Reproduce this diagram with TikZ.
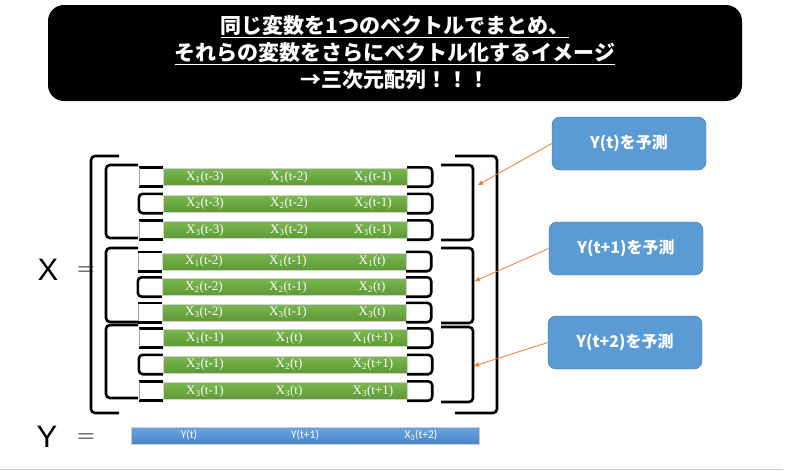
\documentclass[tikz,border=0pt]{standalone}
\usepackage{fontspec}
\setsansfont{Liberation Sans}
\newfontfamily\jpfont{Noto Sans CJK JP}
\newfontfamily\barfont{Liberation Serif}
\newfontfamily\ybarfont{Carlito}
\usetikzlibrary{arrows.meta,positioning,calc}
\usepackage{xcolor}
\definecolor{barTop}{RGB}{124,184,80}
\definecolor{barBot}{RGB}{92,152,52}
\definecolor{ybarTop}{RGB}{108,165,222}
\definecolor{ybarBot}{RGB}{72,134,200}
\definecolor{calloutFill}{RGB}{91,155,213}
\definecolor{calloutLine}{RGB}{65,113,156}
\definecolor{arrowOrange}{RGB}{237,125,49}
\newcommand{\xv}[2]{X\textsubscript{#1}(#2)}
\newcommand{\tri}[3]{\makebox[244pt][l]{\makebox[84pt]{#1}\makebox[84pt]{#2}\makebox[84pt]{#3}}}
\newcommand{\undl}[1]{\setbox0\hbox{#1}\rlap{\raisebox{-4.5pt}{\rule{\wd0}{1.3pt}}}\box0}

\begin{document}
\begin{tikzpicture}[x=1pt,y=-1pt,
    bar/.style={minimum width=244pt,minimum height=17pt,inner sep=0pt,
      top color=barTop,bottom color=barBot,draw=gray!35,text=white,
      font=\barfont\fontsize{13}{15}\selectfont},
    ybar/.style={minimum width=348pt,minimum height=17pt,inner sep=0pt,
      top color=ybarTop,bottom color=ybarBot,draw=gray!40,text=white,
      font=\ybarfont\fontsize{11.5}{13}\selectfont},
    brk/.style={line width=2.6pt,rounded corners=4pt},
    thinv/.style={gray!70,line width=0.8pt},
    callout/.style={draw=calloutLine,fill=calloutFill,rounded corners=8pt,
      minimum width=154pt,minimum height=53pt,text=white,
      font=\jpfont\bfseries\fontsize{16}{18}\selectfont},
    arr/.style={arrowOrange,line width=0.8pt,-{Triangle[length=5pt,width=4.5pt]}}]
  \path[fill=white,use as bounding box] (0,0) rectangle (785,471);

  % title
  \node[fill=black,rounded corners=16pt,minimum width=694pt,minimum height=96pt,
    text=white,align=center,font=\jpfont\bfseries\fontsize{21}{27}\selectfont]
    (title) at (395,53) {\undl{同じ変数を1つのベクトルでまとめ、}\\
    \undl{それらの変数をさらにベクトル化するイメージ}\\
    →三次元配列！！！};

  % X rows
  \node[bar] (r1) at (285,177) {\tri{\xv{1}{t-3}}{\xv{1}{t-2}}{\xv{1}{t-1}}};
  \node[bar] (r2) at (285,203.5) {\tri{\xv{2}{t-3}}{\xv{2}{t-2}}{\xv{2}{t-1}}};
  \node[bar] (r3) at (285,230) {\tri{\xv{3}{t-3}}{\xv{3}{t-2}}{\xv{3}{t-1}}};
  \node[bar] (r4) at (284,261.5) {\tri{\xv{1}{t-2}}{\xv{1}{t-1}}{\xv{1}{t}}};
  \node[bar] (r5) at (284,287) {\tri{\xv{2}{t-2}}{\xv{2}{t-1}}{\xv{2}{t}}};
  \node[bar] (r6) at (284,312.5) {\tri{\xv{3}{t-2}}{\xv{3}{t-1}}{\xv{3}{t}}};
  \node[bar] (r7) at (285,338) {\tri{\xv{1}{t-1}}{\xv{1}{t}}{\xv{1}{t+1}}};
  \node[bar] (r8) at (285,364.5) {\tri{\xv{2}{t-1}}{\xv{2}{t}}{\xv{2}{t+1}}};
  \node[bar] (r9) at (285,391) {\tri{\xv{3}{t-1}}{\xv{3}{t}}{\xv{3}{t+1}}};

  % row brackets
  \foreach \r in {r2,r5,r8}
    \draw[brk] ([yshift=1pt]\r.north west) -- ++(-24,0) |- ([yshift=-1pt]\r.south west);
  \foreach \r in {r1,r3,r4,r6,r7,r9} {
    \draw[brk] ([yshift=1pt]\r.north west) -- ++(-24,0);
    \draw[brk] ([yshift=-1pt]\r.south west) -- ++(-24,0);
    \draw[thinv] ([xshift=-23pt]\r.north west) -- ([xshift=-23pt]\r.south west);
  }
  \foreach \r in {r1,r2,r3,r4,r5,r6,r7,r8,r9}
    \draw[brk] ([yshift=1pt]\r.north east) -- ++(25,0) |- ([yshift=-1pt]\r.south east);

  % group brackets
  \foreach \t/\b in {165/238,248/322,325/398}
    \draw[brk] (138,\t) -- (106,\t) -- (106,\b) -- (138,\b);
  \foreach \t/\b in {165/240,248/323,327/402}
    \draw[brk] (441,\t) -- (473,\t) -- (473,\b) -- (441,\b);
  \draw[brk] (119,156) -- (91,156) -- (91,413) -- (119,413);
  \draw[brk] (455,156) -- (497,156) -- (497,413) -- (455,413);

  % X = , Y =
  \node[font=\sffamily\fontsize{31}{31}\selectfont] (xlab) at (48,270) {X};
  \node[font=\fontsize{24}{24}\selectfont] (xeq) at (86,271) {=};
  \node[font=\sffamily\fontsize{31}{31}\selectfont] (ylab) at (47,437) {Y};
  \node[font=\fontsize{24}{24}\selectfont] (yeq) at (86,438) {=};
  \node[ybar] (ybar) at (305,435.5) {\makebox[116pt]{Y(t)}\makebox[116pt]{Y(t+1)}\makebox[116pt]{X\textsubscript{3}(t+2)}};

  % callouts
  \node[callout] (c1) at (629,143.5) {Y(t)を予測};
  \node[callout] (c2) at (626,248.5) {Y(t+1)を予測};
  \node[callout] (c3) at (625,342.5) {Y(t+2)を予測};
  \coordinate (g1) at (478,185);
  \coordinate (g2) at (475,281);
  \coordinate (g3) at (474,366);
  \draw[arr] (c1.west) -- (g1);
  \draw[arr] (c2.west) -- (g2);
  \draw[arr] (c3.west) -- (g3);

  \draw[gray!40,line width=1pt] (0,469) -- (783,469);
\end{tikzpicture}
\end{document}
